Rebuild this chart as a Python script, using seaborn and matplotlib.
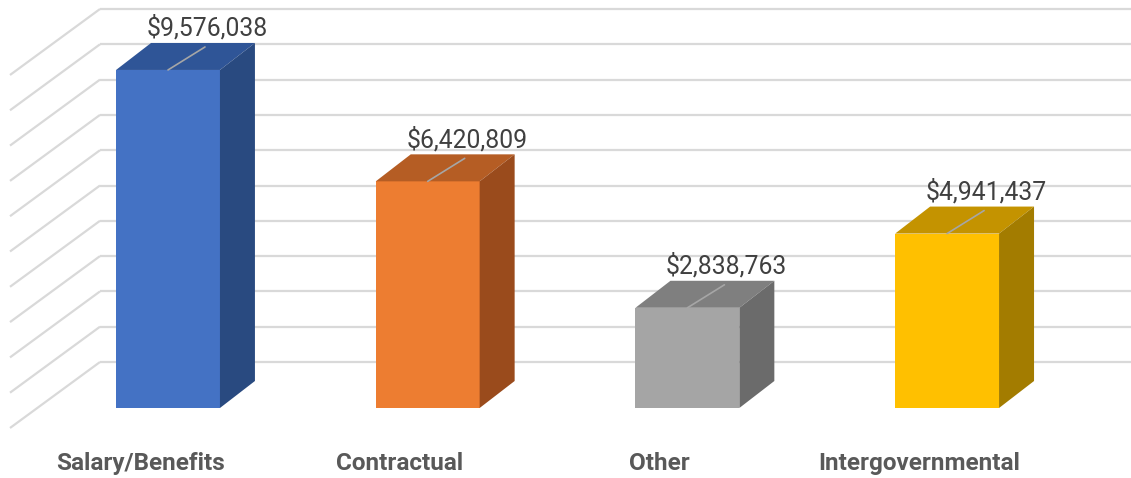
import numpy as np
import pandas as pd
import matplotlib
matplotlib.use("Agg")
import matplotlib.pyplot as plt
import seaborn as sns
from matplotlib.patches import Polygon

# Spending by category
categories = ["Salary/Benefits", "Contractual", "Other", "Intergovernmental"]
amounts = [9576038, 6420809, 2838763, 4941437]
value_labels = ["$9,576,038", "$6,420,809", "$2,838,763", "$4,941,437"]
grid_values = [k * 1_000_000 for k in range(11)]

front_colors = ["#4472C4", "#ED7D31", "#A5A5A5", "#FFC000"]
top_colors = ["#2F5597", "#B55D24", "#7F7F7F", "#C49300"]
side_colors = ["#294A80", "#9A4B1C", "#6B6B6B", "#A37C00"]

sns.set_theme(style="white")
plt.rcParams["font.family"] = ["Roboto", "DejaVu Sans"]

W, H = 1131, 478
fig = plt.figure(figsize=(W / 100, H / 100), dpi=100)
ax = fig.add_axes([0, 0, 1, 1])

# pixel-size helpers for the oblique projection
CAT_PX = 259.7          # pixels between categories
VAL_PX = 35.3           # pixels per 1,000,000


def px_x(n):
    return n / CAT_PX


def px_y(n):
    return n * 1_000_000 / VAL_PX


df = pd.DataFrame({"category": categories, "amount": amounts})
sns.barplot(data=df, x="category", y="amount", hue="category",
            palette=front_colors, saturation=1, width=0.4, legend=False,
            ax=ax, zorder=3, linewidth=0)

half = 0.2
dx, dy = px_x(35), px_y(27)

# back wall and left side wall grid
wall_x = px_x(100 - 168)
side_x = px_x(10 - 168)
wall_base = px_y(46)
x_right = px_x(W - 168)
for g in grid_values:
    yb = wall_base + g
    ax.plot([wall_x, x_right], [yb, yb], color="#D9D9D9", lw=1.6,
            zorder=1, solid_capstyle="butt")
    ax.plot([side_x, wall_x], [yb - px_y(66), yb], color="#D9D9D9", lw=1.6,
            zorder=1, solid_capstyle="butt")

# top and side faces of each bar
for i, v in enumerate(amounts):
    top = Polygon([(i - half, v), (i + half, v), (i + half + dx, v + dy),
                   (i - half + dx, v + dy)], closed=True,
                  facecolor=top_colors[i], edgecolor="none", zorder=3)
    side = Polygon([(i + half, 0), (i + half + dx, dy), (i + half + dx, v + dy),
                    (i + half, v)], closed=True,
                   facecolor=side_colors[i], edgecolor="none", zorder=3)
    ax.add_patch(top)
    ax.add_patch(side)
    # leader line and value label
    ax.plot([i, i + px_x(37)], [v, v + px_y(23)], color="#A6A6A6", lw=1.2,
            zorder=4)
    ax.text(i + px_x(39), v + px_y(34), value_labels[i], ha="center",
            va="baseline", fontsize=17.8, color="#404040", zorder=5)
    ax.text(i - px_x(28), px_y(-62), categories[i], ha="center",
            va="baseline", fontsize=17.5, fontweight="bold", color="#595959")

ax.set_xlim(px_x(-168), px_x(W - 168))
ax.set_ylim(px_y(-70), px_y(408))
ax.set_axis_off()

fig.savefig("out.png", dpi=100)
